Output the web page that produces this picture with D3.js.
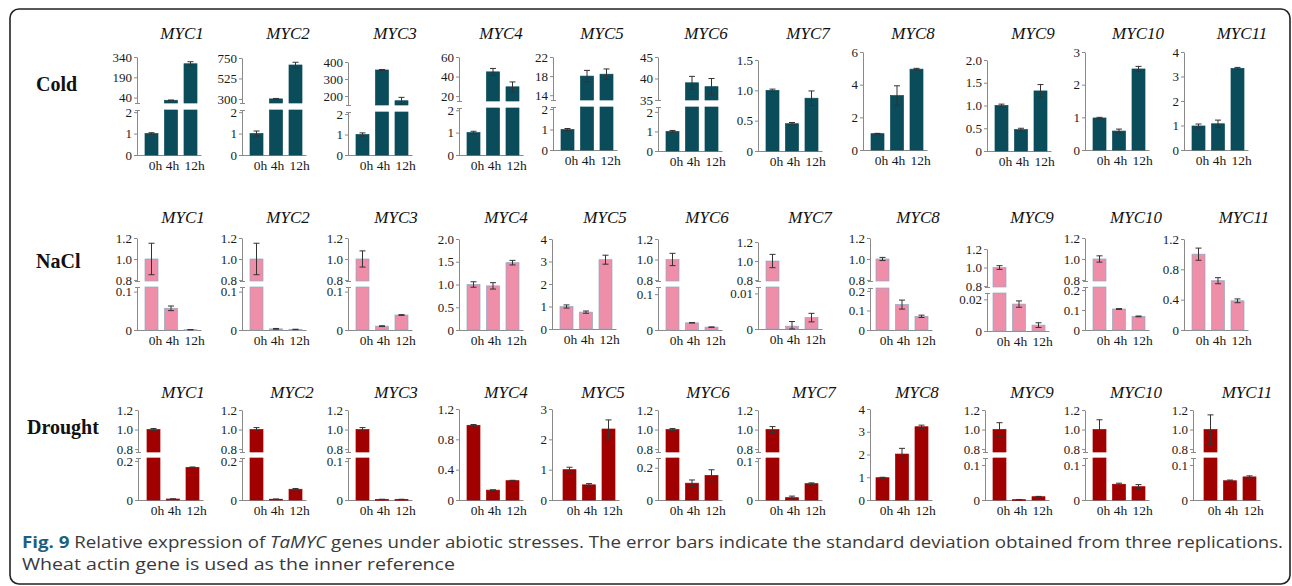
<!DOCTYPE html>
<html>
<head>
<meta charset="utf-8">
<script src="https://cdn.jsdelivr.net/npm/d3@7"></script>
<style>
  body { margin: 0; background: #fff; }
  svg { display: block; }
</style>
</head>
<body>
<script>
// ---- data ----
const genes = ["MYC1","MYC2","MYC3","MYC4","MYC5","MYC6","MYC7","MYC8","MYC9","MYC10","MYC11"];
const times = ["0h","4h","12h"];

// Cold
const coldMeans = [[1,20,290],[1,300,673],[1,353,172],[1,44.8,29.5],[1,18.0,18.4],[1,39,38.1],
  [1.0,0.45,0.87],[1,3.33,4.95],[1.0,0.47,1.32],[0.98,0.58,2.48],[0.98,1.07,3.33]];
const coldSD = [[0.04,2,15],[0.12,5,30],[0.08,3,20],[0.06,3.5,5],[0.05,1.2,1.1],[0.05,1.5,1.9],
  [0.02,0.02,0.12],[0.02,0.6,0.05],[0.03,0.03,0.14],[0.02,0.06,0.08],[0.08,0.15,0.04]];
const coldLowDomain = [[0,2.1],[0,2.1],[0,2.1],[0,2.1],[0,2.1],[0,2.25],[0,1.5],[0,6],[0,2],[0,3],[0,4]];
const coldLowTicks = [["0","1","2"],["0","1","2"],["0","1","2"],["0","1","2"],["0","1","2"],["0","1","2"],
  ["0","0.5","1.0","1.5"],["0","2","4","6"],["0","0.5","1.0","1.5","2.0"],["0","1","2","3"],["0","1","2","3","4"]];
const coldUpDomain = [[0,340],[255,750],[147,400],[15,60],[13,22],[35,45],null,null,null,null,null];
const coldUpTicks = [["40","190","340"],["300","525","750"],["200","300","400"],["20","40","60"],
  ["14","18","22"],["35","40","45"],null,null,null,null,null];

// NaCl
const naclMeans = [[1.0,0.0565,0.0008],[1.0,0.003,0.0015],[1.0,0.01,0.039],[1.0,0.97,1.48],[1.0,0.75,3.08],
  [1.0,0.02,0.008],[1.0,0.0008,0.0032],[1.0,0.13,0.07],[1.0,0.017,0.0037],[1.0,0.105,0.068],[1.0,0.65,0.385]];
const naclSD = [[0.15,0.006,0.0003],[0.15,0.001,0.0005],[0.077,0.001,0.001],[0.06,0.07,0.05],[0.07,0.05,0.2],
  [0.06,0.0005,0.0005],[0.07,0.0013,0.0012],[0.015,0.023,0.006],[0.02,0.002,0.0015],[0.03,0.002,0.002],[0.08,0.04,0.025]];
const naclLowDomain = [[0,0.112],[0,0.112],[0,0.112],[0,2],[0,4],[0,0.12],[0,0.0118],[0,0.215],[0,0.024],[0,0.215],[0,1.2]];
const naclLowTicks = [["0","0.1"],["0","0.1"],["0","0.1"],["0","0.5","1.0","1.5","2.0"],["0","1","2","3","4"],
  ["0","0.1"],["0","0.01"],["0","0.1","0.2"],["0","0.02"],["0","0.1","0.2"],["0","0.4","0.8","1.2"]];
const naclUpDomain = [[0.79,1.2],[0.79,1.2],[0.79,1.2],null,null,[0.79,1.2],[0.79,1.2],[0.79,1.2],[0.79,1.2],[0.79,1.2],null];
const naclUpTicks = naclUpDomain.map(d => d ? ["0.8","1.0","1.2"] : null);

// Drought
const droughtMeans = [[1.0,0.005,0.167],[1.0,0.004,0.055],[1.0,0.0015,0.0015],[0.985,0.13,0.255],[1.0,0.5,2.34],
  [1.0,0.104,0.152],[1.0,0.006,0.042],[0.98,2.02,3.22],[1.0,0.001,0.0094],[1.0,0.045,0.038],[1.0,0.055,0.066]];
const droughtSD = [[0.01,0.001,0.002],[0.02,0.001,0.004],[0.02,0.0005,0.0005],[0.01,0.005,0.005],[0.08,0.04,0.3],
  [0.01,0.02,0.035],[0.03,0.004,0.002],[0.02,0.25,0.07],[0.07,0.0005,0.001],[0.1,0.003,0.006],[0.15,0.002,0.003]];
const droughtLowDomain = [[0,0.215],[0,0.215],[0,0.108],[0,1.2],[0,3],[0,0.26],[0,0.108],[0,4],[0,0.12],[0,0.12],[0,0.12]];
const droughtLowTicks = [["0","0.2"],["0","0.2"],["0","0.1"],["0","0.4","0.8","1.2"],["0","1","2","3"],
  ["0","0.2"],["0","0.1"],["0","1","2","3","4"],["0","0.1"],["0","0.1"],["0","0.1"]];
const droughtUpDomain = [[0.77,1.2],[0.77,1.2],[0.77,1.2],null,null,[0.77,1.2],[0.77,1.2],null,[0.77,1.2],[0.77,1.2],[0.77,1.2]];
const droughtUpTicks = droughtUpDomain.map(d => d ? ["0.8","1.0","1.2"] : null);

// ---- layout (pixel placement of each small panel) ----
const coldLayout = {
  axisX: [137,242,348,459,553,658,758,863,987,1085,1184],
  base: [155,155,155,155,150,151,151,150,151,150,150],
  lowTop: [110,110,112,108,107,107,60,52,60,52,52],
  upBot: [103,103,105,101,100,100],
  top: [57,58,62,57,57,57],
  titleX: [182,288,395,501,602,706,808,913,1033,1138,1242],
  barShift: [0,0,0,0,0,0,0,0,0,0,0],
  titleY: 39, label: "Cold", labelX: 36, labelY: 91
};
const naclLayout = {
  axisX: [137,242,348,459,552,658,758,870,987,1085,1184],
  base: [330,330,330,330,329,330,329,330,331,330,330],
  lowTop: [287,287,287,239,239,287,287,288,293,287,239],
  upBot: [281,281,281,0,0,281,281,281,287,281,0],
  top: [238,238,238,0,0,239,242,238,249,238,0],
  titleX: [183,288,396,506,605,707,810,918,1032,1136,1244],
  barShift: [0,0,0,0,0,0,0,-2,-2,0,0],
  titleY: 223, label: "NaCl", labelX: 36, labelY: 268
};
const droughtLayout = {
  axisX: [138,242,348,459,552,658,758,870,985,1085,1193],
  base: [500,500,500,500,500,500,500,500,500,500,500],
  lowTop: [458,458,458,409,409,458,458,409,458,458,458],
  upBot: [452,452,452,0,0,452,452,0,452,452,452],
  top: [410,410,410,0,0,410,410,0,410,410,410],
  titleX: [183,292,396,506,603,708,814,917,1032,1136,1247],
  barShift: [1,0,0,0,3,0,0,-2,0,0,3],
  titleY: 398, label: "Drought", labelX: 27, labelY: 434
};
const xLabelDx = [4, 1.5, 4];

const rows = [
  {means: coldMeans, sd: coldSD, lowDom: coldLowDomain, lowTicks: coldLowTicks, upDom: coldUpDomain, upTicks: coldUpTicks,
   layout: coldLayout, fill: "#0b4c5b", stroke: "#0b4c5b"},
  {means: naclMeans, sd: naclSD, lowDom: naclLowDomain, lowTicks: naclLowTicks, upDom: naclUpDomain, upTicks: naclUpTicks,
   layout: naclLayout, fill: "#ef8ea8", stroke: "#8fa9c4"},
  {means: droughtMeans, sd: droughtSD, lowDom: droughtLowDomain, lowTicks: droughtLowTicks, upDom: droughtUpDomain, upTicks: droughtUpTicks,
   layout: droughtLayout, fill: "#a10000", stroke: "#a10000"}
];

const serif = "'Liberation Serif', 'Times New Roman', serif";
const axisColor = "#8a8a8a";

const svg = d3.select("body").append("svg")
  .attr("width", 1292)
  .attr("height", 586);

// outer frame
svg.append("rect")
  .attr("x", 10).attr("y", 9)
  .attr("width", 1280).attr("height", 575)
  .attr("rx", 9)
  .attr("fill", "none")
  .attr("stroke", "#222")
  .attr("stroke-width", 1.6);

function styleAxis(sel) {
  sel.attr("font-family", null).attr("font-size", null);
  sel.select(".domain").attr("stroke", axisColor);
  sel.selectAll(".tick line").attr("stroke", axisColor);
  sel.selectAll(".tick text")
    .attr("font-family", serif)
    .attr("font-size", 13)
    .attr("fill", "#1a1a1a");
}

rows.forEach(row => {
  const L = row.layout;

  svg.append("text")
    .attr("x", L.labelX).attr("y", L.labelY)
    .attr("font-family", serif)
    .attr("font-weight", "bold")
    .attr("font-size", 20)
    .attr("fill", "#111")
    .text(L.label);

  genes.forEach((gene, i) => {
    const ax = L.axisX[i];
    const base = L.base[i];
    const g = svg.append("g");

    const x = d3.scaleBand()
      .domain(times)
      .range([ax + 1.5 + L.barShift[i], ax + 66.5 + L.barShift[i]])
      .paddingInner(1/3)
      .paddingOuter(1/3);

    const yLow = d3.scaleLinear().domain(row.lowDom[i]).range([base, L.lowTop[i]]);
    const up = row.upDom[i];
    const yUp = up ? d3.scaleLinear().domain(up).range([L.upBot[i], L.top[i]]) : null;

    // title
    g.append("text")
      .attr("x", L.titleX[i]).attr("y", L.titleY)
      .attr("text-anchor", "middle")
      .attr("font-family", serif)
      .attr("font-style", "italic")
      .attr("font-size", 17)
      .attr("fill", "#111")
      .text(gene);

    // y axis (lower / whole segment)
    const lowLabels = row.lowTicks[i];
    g.append("g")
      .attr("transform", `translate(${ax},0)`)
      .call(d3.axisLeft(yLow)
        .tickValues(lowLabels.map(Number))
        .tickFormat((d, k) => lowLabels[k])
        .tickSize(3).tickSizeOuter(0).tickPadding(2))
      .call(styleAxis);

    if (yUp) {
      const upLabels = row.upTicks[i];
      g.append("g")
        .attr("transform", `translate(${ax},0)`)
        .call(d3.axisLeft(yUp)
          .tickValues(upLabels.map(Number))
          .tickFormat((d, k) => upLabels[k])
          .tickSize(3).tickSizeOuter(0).tickPadding(2))
        .call(styleAxis);
      // little caps at the break
      [L.lowTop[i], L.upBot[i]].forEach(yy => {
        g.append("line")
          .attr("x1", ax - 2).attr("x2", ax + 3)
          .attr("y1", yy + 0.5).attr("y2", yy + 0.5)
          .attr("stroke", axisColor);
      });
    }

    // x axis
    g.append("line")
      .attr("x1", ax).attr("x2", x.range()[1] - 2)
      .attr("y1", base + 0.5).attr("y2", base + 0.5)
      .attr("stroke", axisColor);
    g.append("g")
      .attr("transform", `translate(0,${base})`)
      .call(d3.axisBottom(x).tickSize(0).tickPadding(5))
      .call(sel => {
        sel.attr("font-family", null).attr("font-size", null);
        sel.select(".domain").remove();
        sel.selectAll(".tick text")
          .attr("dx", (d, k) => xLabelDx[k])
          .attr("font-family", serif)
          .attr("font-size", 13.5)
          .attr("fill", "#1a1a1a");
      });

    // bars (split across the break when needed)
    const pieces = [];
    const errs = [];
    row.means[i].forEach((v, k) => {
      const t = times[k];
      const s = row.sd[i][k];
      if (!yUp || v <= row.lowDom[i][1]) {
        pieces.push({t, y0: base, y1: yLow(v)});
        errs.push({t, lo: yLow(Math.max(0, v - s)), hi: yLow(v + s)});
      } else {
        pieces.push({t, y0: base, y1: L.lowTop[i]});
        pieces.push({t, y0: L.upBot[i], y1: yUp(Math.max(v, up[0]))});
        errs.push({t, lo: yUp(Math.max(up[0], v - s)), hi: yUp(v + s)});
      }
    });

    g.selectAll("rect.bar")
      .data(pieces)
      .enter()
      .append("rect")
      .attr("class", "bar")
      .attr("x", d => x(d.t))
      .attr("y", d => d.y1)
      .attr("width", x.bandwidth())
      .attr("height", d => Math.max(0.8, d.y0 - d.y1))
      .attr("fill", row.fill)
      .attr("stroke", row.stroke)
      .attr("stroke-width", 0.7);

    g.selectAll("path.err")
      .data(errs)
      .enter()
      .append("path")
      .attr("class", "err")
      .attr("d", d => {
        const cx = x(d.t) + x.bandwidth() / 2;
        return `M${cx - 3},${d.hi}H${cx + 3}M${cx},${d.hi}V${d.lo}M${cx - 3},${d.lo}H${cx + 3}`;
      })
      .attr("fill", "none")
      .attr("stroke", "#333")
      .attr("stroke-width", 1);
  });
});

// caption
const cap1 = svg.append("text")
  .attr("x", 22).attr("y", 548)
  .attr("font-family", "'Open Sans', 'Noto Sans', sans-serif")
  .attr("font-size", 16.5)
  .attr("fill", "#3a3a3a")
  .attr("textLength", 1261)
  .attr("lengthAdjust", "spacingAndGlyphs");
cap1.append("tspan").attr("font-weight", "bold").attr("fill", "#1d5f7c").text("Fig. 9");
cap1.append("tspan").text(" Relative expression of ");
cap1.append("tspan").attr("font-style", "italic").text("TaMYC");
cap1.append("tspan").text(" genes under abiotic stresses. The error bars indicate the standard deviation obtained from three replications.");

svg.append("text")
  .attr("x", 22).attr("y", 570)
  .attr("font-family", "'Open Sans', 'Noto Sans', sans-serif")
  .attr("font-size", 16.5)
  .attr("fill", "#3a3a3a")
  .attr("textLength", 433)
  .attr("lengthAdjust", "spacingAndGlyphs")
  .text("Wheat actin gene is used as the inner reference");
</script>
</body>
</html>
